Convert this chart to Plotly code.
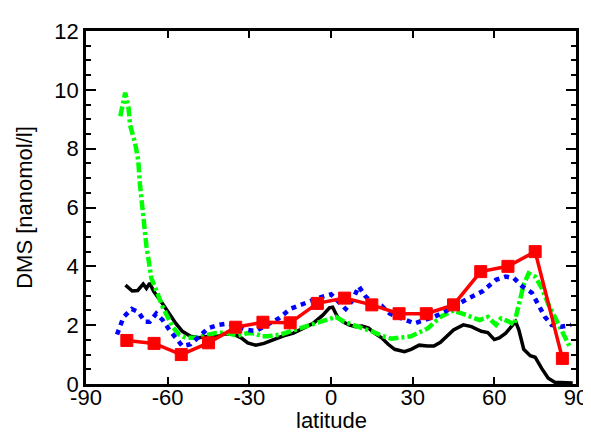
import plotly.graph_objects as go

# ---- data ----
black_lat = [-75.5, -73, -71, -69, -67.8, -66.6, -65.2, -63.5, -61.8, -59.4,
             -57, -54.6, -51.6, -48.6, -45, -41.4, -39, -35.4, -33, -30.6,
             -27.6, -24.6, -21, -17.4, -13.8, -10.2, -6.6, -3, -0.6, 0.6,
             2.4, 4.2, 6.6, 9, 11.4, 13.8, 16.2, 18.6, 21, 23.4,
             27, 29.4, 32.4, 35.4, 37.8, 40.2, 42.6, 45, 48.6, 51.6,
             55.2, 57.6, 60, 61.8, 64.2, 67.8, 69, 70.8, 73.2, 75,
             77.4, 79.8, 82.2, 85.8, 88.8]
black_val = [3.36, 3.16, 3.18, 3.40, 3.25, 3.43, 3.16, 2.95, 2.72, 2.39,
             2.06, 1.79, 1.62, 1.57, 1.62, 1.62, 1.71, 1.68, 1.57, 1.40,
             1.32, 1.38, 1.51, 1.64, 1.73, 1.90, 2.06, 2.34, 2.59, 2.61,
             2.28, 2.12, 2.01, 1.95, 1.97, 1.90, 1.71, 1.57, 1.35, 1.18,
             1.10, 1.18, 1.32, 1.29, 1.29, 1.42, 1.65, 1.84, 2.01, 1.95,
             1.79, 1.75, 1.51, 1.57, 1.73, 2.12, 1.84, 1.18, 0.96, 0.91,
             0.53, 0.20, 0.06, 0.03, 0.03]

blue_lat = [-78.6, -76.2, -73.2, -70.8, -68.4, -66.6, -64.2, -61.8, -59.4, -57,
            -54.6, -51.6, -48.6, -45, -41.4, -37.8, -34.2, -30.6, -27.6, -23.4,
            -19.2, -15, -11.4, -7.8, -4.2, 0, 3, 5.4, 7.8, 10.2,
            12.6, 15, 18.6, 21.6, 24.6, 27.6, 30.6, 34.2, 37.8, 41.4,
            43.8, 49.8, 55.8, 60.6, 64.2, 67.2, 70.2, 73.8, 76.2, 78.6,
            81, 84.6, 88.2]
blue_val = [1.68, 2.28, 2.55, 2.45, 2.12, 2.12, 2.39, 2.17, 1.84, 1.57,
            1.29, 1.35, 1.62, 1.90, 2.01, 2.06, 1.95, 1.84, 1.80, 2.01,
            2.23, 2.55, 2.70, 2.81, 2.94, 3.05, 2.77, 2.55, 2.83, 3.32,
            2.99, 2.77, 2.66, 2.39, 2.28, 2.17, 2.06, 2.17, 2.28, 2.44,
            2.55, 2.88, 3.16, 3.54, 3.65, 3.60, 3.32, 3.10, 2.72, 2.28,
            2.01, 1.95, 2.01]

green_lat = [-77.4, -75.6, -74.4, -73.8, -72, -70.8, -70.2, -69, -67.8, -66,
             -65.2, -63.6, -61.8, -60, -58.2, -55.8, -53.4, -49.8, -46.2, -42.6,
             -39, -34.2, -30.6, -28.2, -25.2, -23.4, -18.6, -13.8, -9, -4.2,
             0, 1.8, 4.8, 7.8, 11.4, 15, 18.6, 22.2, 25.8, 29.4,
             31.8, 35.4, 40.2, 45, 49.8, 54.6, 57.6, 60.6, 62.4, 65.4,
             67.2, 69, 70.8, 72.6, 75, 77.4, 79.8, 83.4, 85.8, 87.6]
green_val = [9.1, 9.9, 9.4, 8.8, 8.2, 7.6, 6.8, 5.85, 4.69, 3.60,
             3.43, 3.05, 2.61, 2.28, 1.95, 1.68, 1.57, 1.57, 1.64, 1.73,
             1.75, 1.64, 1.73, 1.72, 1.62, 1.62, 1.68, 1.82, 1.97, 2.12,
             2.26, 2.28, 2.12, 2.01, 1.90, 1.79, 1.64, 1.54, 1.57, 1.62,
             1.73, 1.88, 2.28, 2.50, 2.34, 2.17, 2.28, 2.01, 2.23, 2.12,
             2.01, 2.72, 3.38, 3.76, 3.65, 3.27, 2.72, 2.06, 1.62, 1.29]

red_lat = [-75, -65, -55, -45, -35, -25, -15, -5, 5, 15, 25, 35, 45, 55, 65, 75, 85]
red_val = [1.48, 1.38, 1.0, 1.40, 1.93, 2.1, 2.08, 2.74, 2.92, 2.69, 2.39, 2.39, 2.69, 3.82, 4.0, 4.5, 0.87]

x_ticks = [-90, -60, -30, 0, 30, 60, 90]
y_ticks = [0, 2, 4, 6, 8, 10, 12]

FONT = "Liberation Sans, Arial, Helvetica, sans-serif"

fig = go.Figure()
fig.add_trace(go.Scatter(x=black_lat, y=black_val, mode="lines",
                         line=dict(color="black", width=3.5), showlegend=False))
fig.add_trace(go.Scatter(x=green_lat, y=green_val, mode="lines",
                         line=dict(color="#00ff00", width=4.5, dash="10px,3px,3px,3px"),
                         showlegend=False))
fig.add_trace(go.Scatter(x=blue_lat, y=blue_val, mode="lines",
                         line=dict(color="#0000ff", width=4.5, dash="5px,5px"),
                         showlegend=False))
fig.add_trace(go.Scatter(x=red_lat, y=red_val, mode="lines+markers",
                         line=dict(color="#ff0000", width=3.5),
                         marker=dict(symbol="square", size=12, color="#ff0000",
                                     line=dict(color="#ff0000", width=1)),
                         showlegend=False))

axis_common = dict(showline=True, linecolor="black", linewidth=2.5, mirror="ticks",
                   ticks="inside", tickcolor="black", tickwidth=2,
                   showgrid=False, zeroline=False,
                   tickfont=dict(family=FONT, size=22, color="black"),
                   title_font=dict(family=FONT, size=22, color="black"))

fig.update_xaxes(range=[-90, 90], tickvals=x_ticks, ticktext=[str(v) for v in x_ticks],
                 ticklen=7, ticklabelstandoff=-8, **axis_common)
fig.update_yaxes(range=[0, 12], tickvals=y_ticks, ticktext=[str(v) for v in y_ticks],
                 ticklen=10, title_text="DMS [nanomol/l]", title_standoff=16,
                 minor=dict(dtick=0.5, ticklen=5, tickwidth=2, tickcolor="black", ticks="inside"),
                 **axis_common)

fig.add_annotation(text="latitude", xref="paper", yref="paper", x=0.5, y=-0.104,
                   xanchor="center", yanchor="middle", showarrow=False, borderpad=0,
                   font=dict(family=FONT, size=22, color="black"))

fig.update_layout(width=591, height=435, margin=dict(l=78, r=13, t=11, b=59),
                  plot_bgcolor="white", paper_bgcolor="white",
                  font=dict(family=FONT, size=22, color="black"))

fig.write_html("out.html")
